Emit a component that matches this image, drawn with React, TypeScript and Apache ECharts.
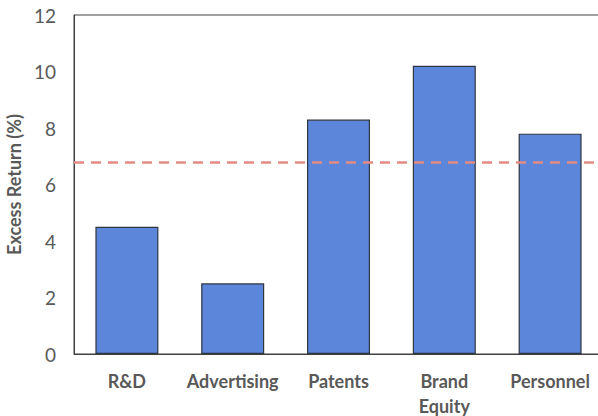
import React, { useEffect, useRef } from "react";
import * as echarts from "echarts";

const categories = ["R&D", "Advertising", "Patents", "Brand\nEquity", "Personnel"];
const excessReturn = [4.5, 2.5, 8.3, 10.2, 7.8];
const benchmark = 6.8;
const yTicks = { min: 0, max: 12, interval: 2 };

export default function App() {
  const ref = useRef<HTMLDivElement>(null);
  useEffect(() => {
    const chart = echarts.init(ref.current!, null, { renderer: "svg" });
    const font = "Lato, 'Open Sans', sans-serif";
    chart.setOption({
      animation: false,
      backgroundColor: "#ffffff",
      grid: {
        left: 74,
        top: 15,
        width: 529,
        height: 339,
        show: true,
        borderColor: "#404040",
        borderWidth: 1,
        containLabel: false,
        outerBoundsMode: "none",
      },
      xAxis: {
        type: "category",
        data: categories,
        axisLine: { show: true, lineStyle: { color: "#404040", width: 1 } },
        axisTick: { show: false },
        axisLabel: {
          color: "#595959",
          fontSize: 18,
          fontWeight: "bold",
          fontFamily: font,
          margin: 14,
          lineHeight: 25,
          interval: 0,
        },
      },
      yAxis: {
        type: "value",
        min: yTicks.min,
        max: yTicks.max,
        interval: yTicks.interval,
        name: "Excess Return (%)",
        nameLocation: "middle",
        nameGap: 44,
        nameTextStyle: {
          color: "#595959",
          fontSize: 18,
          fontWeight: "bold",
          fontFamily: font,
        },
        axisLine: { show: true, lineStyle: { color: "#404040", width: 1 } },
        axisTick: { show: false },
        splitLine: { show: false },
        axisLabel: {
          color: "#595959",
          fontSize: 19,
          fontFamily: font,
          margin: 18,
        },
      },
      series: [
        {
          type: "bar",
          data: excessReturn,
          barWidth: 63,
          itemStyle: {
            color: "#5B86D9",
            borderColor: "#2f3640",
            borderWidth: 1.2,
          },
          markLine: {
            silent: true,
            symbol: "none",
            label: { show: false },
            lineStyle: {
              color: "#E58A84",
              type: [10, 7],
              width: 2.5,
            },
            data: [{ yAxis: benchmark }],
          },
        },
      ],
    });
    return () => chart.dispose();
  }, []);
  return (
    <div
      ref={ref}
      style={{ position: "absolute", left: 0, top: 0, width: 598, height: 416 }}
    />
  );
}
